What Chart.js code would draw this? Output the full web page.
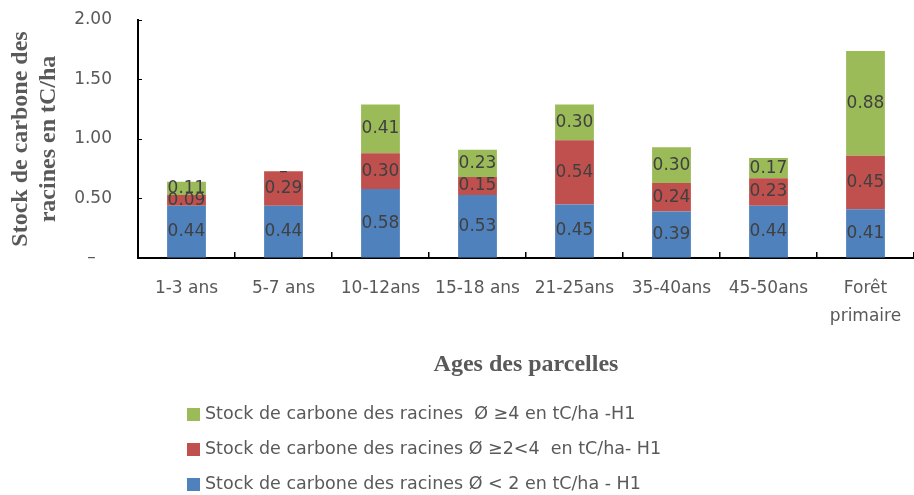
<!DOCTYPE html>
<html>
<head>
<meta charset="utf-8">
<script src="https://cdn.jsdelivr.net/npm/chart.js@4.4.1/dist/chart.umd.min.js"></script>
<style>
  html, body { margin: 0; padding: 0; background: #fff; }
  #wrap { position: relative; width: 914px; height: 495px; overflow: hidden; }
  #legend { position: absolute; left: 187px; top: 403px; font: 17.5px "DejaVu Sans", sans-serif; color: #595959; white-space: pre; }
  #legend div { height: 35px; display: flex; align-items: flex-start; }
  #legend span.box { display: inline-block; width: 13px; height: 13px; margin: 5px 5px 0 0; }
</style>
</head>
<body>
<div id="wrap">
  <canvas id="myChart" width="914" height="495"></canvas>
  <div id="legend"></div>
</div>
<script>
const categories = ['1-3 ans', '5-7 ans', '10-12ans', '15-18 ans', '21-25ans', '35-40ans', '45-50ans', ['Forêt', 'primaire']];
const smallRoots = [0.44, 0.44, 0.58, 0.53, 0.45, 0.39, 0.44, 0.41];
const mediumRoots = [0.09, 0.29, 0.30, 0.15, 0.54, 0.24, 0.23, 0.45];
const largeRoots = [0.11, 0.00, 0.41, 0.23, 0.30, 0.30, 0.17, 0.88];
const yTicks = [0, 0.5, 1, 1.5, 2];

const seriesNames = [
  'Stock de carbone des racines Ø < 2 en tC/ha - H1',
  'Stock de carbone des racines Ø ≥2<4  en tC/ha- H1',
  'Stock de carbone des racines  Ø ≥4 en tC/ha -H1'
];

// values written inside each stacked segment
const segmentLabels = {
  id: 'segmentLabels',
  afterDatasetsDraw(chart) {
    const c = chart.ctx;
    c.save();
    c.font = '17px "DejaVu Sans", sans-serif';
    c.fillStyle = '#404040';
    c.textAlign = 'center';
    c.textBaseline = 'middle';
    chart.data.datasets.forEach((ds, i) => {
      chart.getDatasetMeta(i).data.forEach((bar, j) => {
        const v = ds.data[j];
        if (v === 0) {
          c.fillText('–', bar.x, bar.y);
        } else {
          c.fillText(v.toFixed(2), bar.x, (bar.y + bar.base) / 2);
        }
      });
    });
    c.restore();
  }
};

const ctx = document.getElementById('myChart');

const chart = new Chart(ctx, {
  type: 'bar',
  data: {
    labels: categories,
    datasets: [
      { label: seriesNames[0], data: smallRoots, backgroundColor: '#4F81BD' },
      { label: seriesNames[1], data: mediumRoots, backgroundColor: '#C0504D' },
      { label: seriesNames[2], data: largeRoots, backgroundColor: '#9BBB59' }
    ]
  },
  options: {
    responsive: false,
    animation: false,
    devicePixelRatio: 1,
    categoryPercentage: 1,
    barPercentage: 0.4,
    layout: { padding: { top: 20, right: -4, left: 0, bottom: 115 } },
    plugins: {
      legend: { display: false },
      title: { display: false },
      tooltip: { enabled: false }
    },
    scales: {
      y: {
        stacked: true,
        min: 0,
        max: 2,
        afterFit: s => { s.width = 138; s.paddingTop = 0; s.paddingBottom = 0; },
        afterBuildTicks: s => { s.ticks = yTicks.map(v => ({ value: v })); },
        border: { display: true, color: '#000', width: 2 },
        grid: { display: true, drawOnChartArea: false, drawTicks: true, tickLength: -4, color: '#000', lineWidth: 1 },
        ticks: {
          padding: 30,
          color: '#595959',
          font: { family: '"DejaVu Sans", sans-serif', size: 17 },
          callback: v => v === 0 ? '–   ' : v.toFixed(2)
        },
        title: {
          display: true,
          text: ['Stock de carbone des', 'racines en tC/ha'],
          color: '#595959',
          font: { family: '"Liberation Serif", serif', size: 24, weight: 'bold' },
          padding: { top: 6, bottom: 0 }
        }
      },
      x: {
        stacked: true,
        // plot runs a little past the right edge, as in the original
        afterFit: s => { s.height = 122; s.paddingLeft = 0; s.paddingRight = -4; },
        border: { display: true, color: '#000', width: 2 },
        grid: { display: true, drawOnChartArea: false, drawTicks: true, tickLength: -6, color: '#000', lineWidth: 1.5 },
        ticks: {
          padding: 23,
          color: '#595959',
          font: { family: '"DejaVu Sans", sans-serif', size: 17, lineHeight: 1.65 }
        },
        title: {
          display: true,
          text: 'Ages des parcelles',
          color: '#595959',
          font: { family: '"Liberation Serif", serif', size: 24, weight: 'bold' },
          padding: { top: 0, bottom: 1 }
        }
      }
    }
  },
  plugins: [segmentLabels]
});

// legend, listed top to bottom in reverse dataset order
const legend = document.getElementById('legend');
chart.data.datasets.slice().reverse().forEach(ds => {
  const row = document.createElement('div');
  const box = document.createElement('span');
  box.className = 'box';
  box.style.background = ds.backgroundColor;
  row.appendChild(box);
  row.appendChild(document.createTextNode(ds.label));
  legend.appendChild(row);
});
</script>
</body>
</html>
